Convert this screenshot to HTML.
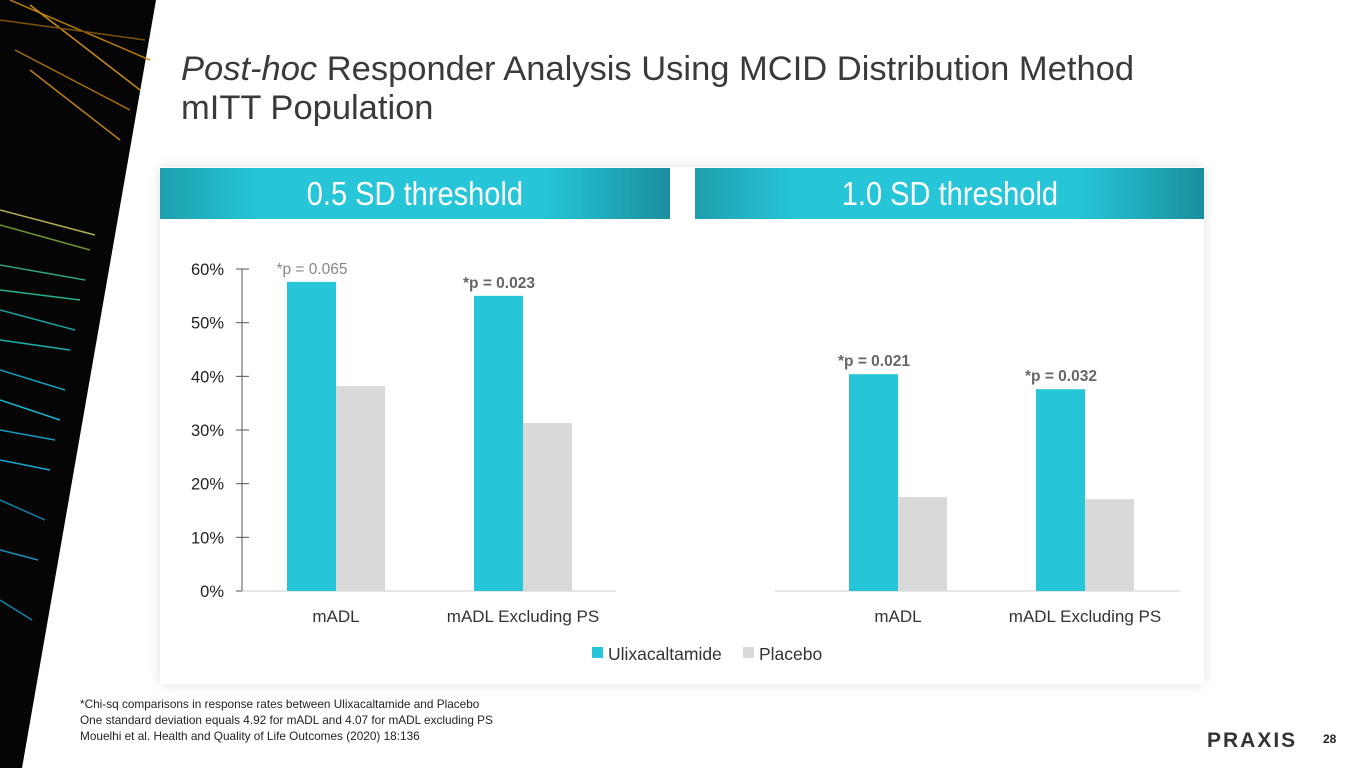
<!DOCTYPE html>
<html><head><meta charset="utf-8"><style>
body{margin:0;width:1365px;height:768px;background:#fff;overflow:hidden;position:relative;font-family:"Liberation Sans",sans-serif}
.abs{position:absolute}
.title{left:181px;top:50px;font-size:34.5px;color:#3a3a3a;line-height:39px;font-weight:300}
.card{left:160px;top:167px;width:1044px;height:517px;background:#fff;box-shadow:0 0 12px rgba(0,0,0,0.12)}
.banner{top:168px;height:51px;background:linear-gradient(90deg,#1e9fae 0%,#26c6d8 20%,#26c6d8 75%,#1a8f9e 100%);color:#fff;font-size:33px;text-align:center;line-height:51px}
.banner span{display:inline-block;transform:scaleX(0.88)}
.foot{left:80px;top:696px;font-size:11.8px;line-height:16px;color:#222}
</style></head><body>
<svg class="abs" style="left:0;top:0" width="160" height="768">
<polygon points="0,0 156,0 22,768 0,768" fill="#050505"/>
<g stroke-width="1.5" opacity="0.9">
<line x1="10" y1="0" x2="150" y2="60" stroke="#c8860e"/><line x1="30" y1="5" x2="140" y2="90" stroke="#e09a20"/>
<line x1="15" y1="50" x2="130" y2="110" stroke="#b87a10"/><line x1="30" y1="70" x2="120" y2="140" stroke="#d08c18"/>
<line x1="0" y1="20" x2="145" y2="40" stroke="#8a5c0a"/>
<line x1="0" y1="210" x2="95" y2="235" stroke="#c8c060"/><line x1="0" y1="225" x2="90" y2="250" stroke="#7aa040"/>
<line x1="0" y1="265" x2="85" y2="280" stroke="#3ab090"/><line x1="0" y1="290" x2="80" y2="300" stroke="#30c0a0"/>
<line x1="0" y1="310" x2="75" y2="330" stroke="#20b0b0"/><line x1="0" y1="340" x2="70" y2="350" stroke="#20c0c0"/>
<line x1="0" y1="370" x2="65" y2="390" stroke="#18b0d0"/><line x1="0" y1="400" x2="60" y2="420" stroke="#20c8e0"/>
<line x1="0" y1="430" x2="55" y2="440" stroke="#18a8d0"/><line x1="0" y1="460" x2="50" y2="470" stroke="#20b8e0"/>
<line x1="0" y1="500" x2="45" y2="520" stroke="#1890c0"/><line x1="0" y1="550" x2="38" y2="560" stroke="#1aa0d0"/>
<line x1="0" y1="600" x2="32" y2="620" stroke="#1890c0"/>
</g></svg>
<div class="abs title"><i>Post-hoc</i> Responder Analysis Using MCID Distribution Method<br>mITT Population</div>
<div class="abs card"></div>
<div class="abs banner" style="left:160px;width:510px"><span>0.5 SD threshold</span></div>
<div class="abs banner" style="left:695px;width:509px"><span>1.0 SD threshold</span></div>
<svg id="chart" class="abs" style="left:0;top:0" width="1365" height="700"></svg>
<div class="abs foot">*Chi-sq comparisons in response rates between Ulixacaltamide and Placebo<br>One standard deviation equals 4.92 for mADL and 4.07 for mADL excluding PS<br>Mouelhi et al. Health and Quality of Life Outcomes (2020) 18:136</div>
<div class="abs" style="left:1207px;top:729px;font-size:21px;font-weight:bold;color:#333;letter-spacing:2px">PRAXIS</div>
<div class="abs" style="left:1323px;top:732px;font-size:12px;font-weight:bold;color:#222">28</div>
<script>
const categories=["mADL","mADL Excluding PS","mADL","mADL Excluding PS"];
const ulix=[57.6,55.0,40.4,37.6];
const placebo=[38.2,31.3,17.5,17.1];
const pLabels=["*p = 0.065","*p = 0.023","*p = 0.021","*p = 0.032"];
const ticks=[0,10,20,30,40,50,60];
const NS="http://www.w3.org/2000/svg";
const svg=document.getElementById('chart');
const y=v=>591-v*(322/60);
const centers=[336,523,898,1085];
const F='"Liberation Sans",sans-serif';
function el(t,a){const e=document.createElementNS(NS,t);for(const k in a)e.setAttribute(k,a[k]);svg.appendChild(e);return e;}
function tx(x,yy,s,size,fill,anchor,w){const e=el('text',{x:x,y:yy,'font-size':size,fill:fill,'text-anchor':anchor,'font-family':F,'font-weight':w||'normal'});e.textContent=s;return e;}
const ax=el('line',{x1:242,y1:y(0),x2:242,y2:y(60),stroke:'#555'});

ticks.forEach(t=>{el('line',{x1:236,x2:249,y1:y(t),y2:y(t),stroke:'#555'});
const l=tx(224,y(t)+6,t+'%',16.5,'#222','end');});
el('line',{x1:242,x2:616,y1:y(0),y2:y(0),stroke:'#ccc'});
el('line',{x1:775,x2:1180,y1:y(0),y2:y(0),stroke:'#ccc'});
categories.forEach((c,i)=>{const cx=centers[i];
const b=el('rect',{x:cx-49,y:y(ulix[i]),width:49,height:y(0)-y(ulix[i]),fill:'#26c6d8'});

const p=el('rect',{x:cx,y:y(placebo[i]),width:49,height:y(0)-y(placebo[i]),fill:'#d9d9d9'});

const pl=tx(cx-24,y(ulix[i])-8,pLabels[i],15.5,i==0?'#888':'#666','middle',i==0?'normal':'bold');

const cl=tx(cx,622,c,17,'#333','middle');});
const l1=el('rect',{x:592,y:647,width:11,height:11,fill:'#26c6d8'});
tx(608,660,'Ulixacaltamide',17.5,'#333','start');
const l2=el('rect',{x:743,y:647,width:11,height:11,fill:'#d9d9d9'});
tx(759,660,'Placebo',17.5,'#333','start');
</script>
</body></html>
